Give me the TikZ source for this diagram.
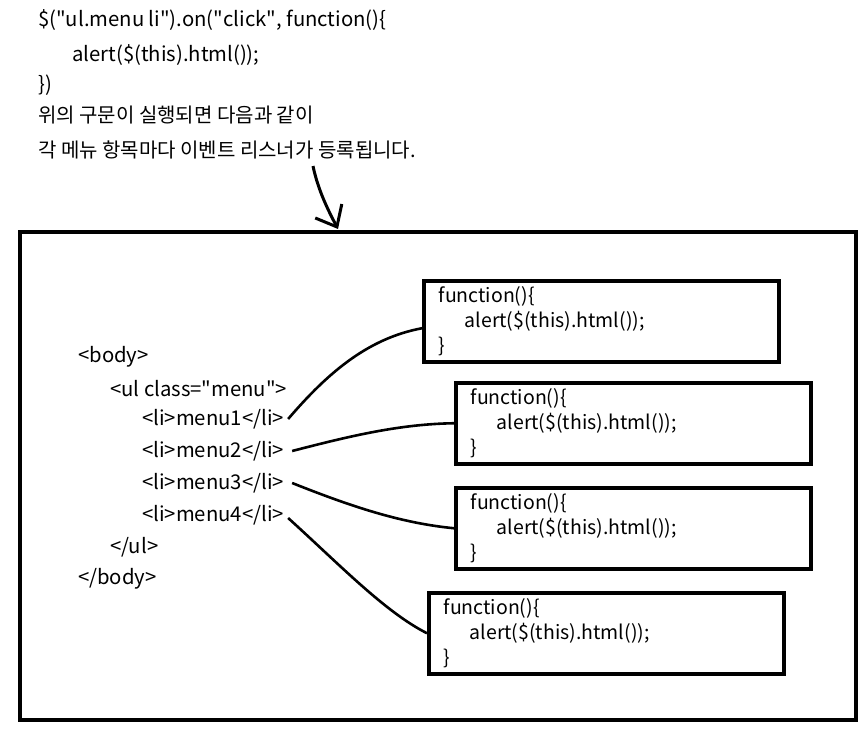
\documentclass[tikz,border=0pt]{standalone}
\usepackage{fontspec}
\setmainfont{Noto Sans CJK KR}
\usetikzlibrary{arrows.meta,calc}
\newcommand{\dq}{\textquotedbl}
\begin{document}
\begin{tikzpicture}[x=1pt,y=-1pt,
  txt/.style={anchor=west,inner sep=0pt,font=\fontsize{20.3}{22}\selectfont},
  kor/.style={anchor=west,inner sep=0pt,font=\fontsize{20}{22}\selectfont},
  tag/.style={anchor=west,inner sep=0pt,font=\fontsize{20.3}{22}\selectfont},
  fnbox/.style={draw,line width=3.5pt,anchor=north west,minimum width=355pt,minimum height=81pt,
    text width=325pt,inner xsep=15pt,inner ysep=0pt,align=left,font=\fontsize{19.5}{25}\selectfont},
  wire/.style={line width=2.6pt},
  frame/.style={draw,line width=4pt,minimum width=836pt,minimum height=488pt,inner sep=0pt}]
\useasboundingbox (0,0) rectangle (865,733);

% code snippet and explanation above the frame
\node[txt] (c1) at (38,20) {\$(\dq ul.menu li\dq).on(\dq click\dq, function()\{};
\node[txt] (c2) at (72,55) {alert(\$(this).html());};
\node[txt] (c3) at (38,85) {\})};
\node[kor] (k1) at (38,115) {위의 구문이 실행되면 다음과 같이};
\node[kor] (k2) at (38,150) {각 메뉴 항목마다 이벤트 리스너가 등록됩니다.};

% outer frame
\node[frame] (fr) at (438,476) {};

% arrow into the frame
\coordinate (a0) at (313,166);
\coordinate (a1) at (338,229);
\draw[line width=3pt,-{Straight Barb[length=18pt,width=30pt,line width=3pt]}]
  (a0) .. controls (318,190) and (328,210) .. (a1);

% HTML markup
\node[tag] (body) at (78,357) {<body>};
\node[tag] (ul) at (110,389) {<ul class=\dq menu\dq>};
\node[tag] (m1) at (142,419) {<li>menu1</li>};
\node[tag] (m2) at (142,451) {<li>menu2</li>};
\node[tag] (m3) at (142,483) {<li>menu3</li>};
\node[tag] (m4) at (142,515) {<li>menu4</li>};
\node[tag] (eul) at (110,547) {</ul>};
\node[tag] (ebody) at (78,579) {</body>};

% handler boxes
\node[fnbox] (f1) at (422,279) {function()\{\\\hspace*{26pt}alert(\$(this).html());\\\}};
\node[fnbox] (f2) at (454,381) {function()\{\\\hspace*{26pt}alert(\$(this).html());\\\}};
\node[fnbox] (f3) at (454,486) {function()\{\\\hspace*{26pt}alert(\$(this).html());\\\}};
\node[fnbox] (f4) at (427,591) {function()\{\\\hspace*{26pt}alert(\$(this).html());\\\}};

% listener links
\draw[wire] ([xshift=4pt]m1.east) .. controls (330,370) and (370,338) .. ([yshift=-7pt]f1.west);
\draw[wire] ([xshift=8pt]m2.east) .. controls (350,436) and (400,424) .. (f2.west);
\draw[wire] ([xshift=8pt]m3.east) .. controls (350,506) and (400,523) .. (f3.west);
\draw[wire] ([xshift=4pt,yshift=-3pt]m4.east) .. controls (340,565) and (385,612) .. (f4.west);
\end{tikzpicture}
\end{document}
